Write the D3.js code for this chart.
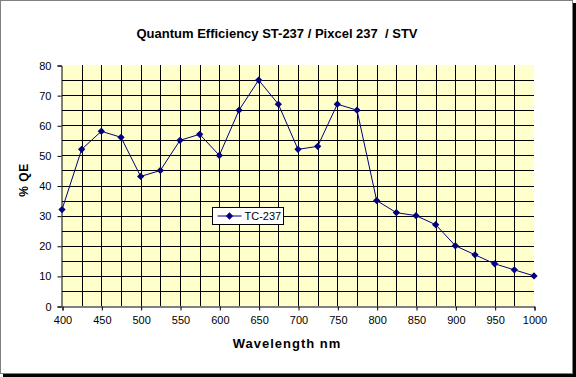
<!DOCTYPE html>
<html>
<head>
<meta charset="utf-8">
<script src="https://cdn.jsdelivr.net/npm/d3@7"></script>
<style>
  html, body { margin: 0; padding: 0; background: #fff; }
  svg { display: block; font-family: Arial, "Liberation Sans", sans-serif; }
</style>
</head>
<body>
<div id="chart"></div>
<script>
// data
const wavelengths = [400, 425, 450, 475, 500, 525, 550, 575, 600, 625, 650, 675, 700,
                     725, 750, 775, 800, 825, 850, 875, 900, 925, 950, 975, 1000];
const qeValues    = [32, 52, 58, 56, 43, 45, 55, 57, 50, 65, 75, 67, 52,
                     53, 67, 65, 35, 31, 30, 27, 20, 17, 14, 12, 10];
const xTicks = [400, 450, 500, 550, 600, 650, 700, 750, 800, 850, 900, 950, 1000];
const yTicks = [0, 10, 20, 30, 40, 50, 60, 70, 80];
const seriesName = 'TC-237';
const titleText = 'Quantum Efficiency ST-237 / Pixcel 237  / STV';

const W = 576, H = 377;
const M = { t: 65, r: 42, b: 71, l: 62 };
const NAVY = '#000080';

const svg = d3.select('#chart').append('svg')
  .attr('width', W).attr('height', H)
  .attr('viewBox', `0 0 ${W} ${H}`);

// frame with shadow
svg.append('rect').attr('x', 3).attr('y', 3).attr('width', W - 3).attr('height', H - 3).attr('fill', '#000');
svg.append('rect').attr('x', 0.5).attr('y', 0.5).attr('width', W - 4).attr('height', H - 4)
  .attr('fill', '#fff').attr('stroke', '#808080').attr('stroke-width', 1);

const x = d3.scaleLinear().domain([400, 1000]).range([M.l, W - M.r]);
const y = d3.scaleLinear().domain([0, 80]).range([H - M.b, M.t]);

svg.append('rect')
  .attr('x', x(400)).attr('y', y(80))
  .attr('width', x(1000) - x(400)).attr('height', y(0) - y(80))
  .attr('fill', '#ffffcc');

// grid (no line on top/right edge)
const gridX = d3.range(425, 1000, 25);
const gridY = d3.range(5, 80, 5);
svg.append('g').selectAll('line').data(gridX).join('line')
  .attr('x1', d => Math.round(x(d)) + 0.5).attr('x2', d => Math.round(x(d)) + 0.5)
  .attr('y1', y(80)).attr('y2', y(0))
  .attr('stroke', '#000').attr('stroke-width', 1);
svg.append('g').selectAll('line').data(gridY).join('line')
  .attr('y1', d => Math.round(y(d)) + 0.5).attr('y2', d => Math.round(y(d)) + 0.5)
  .attr('x1', x(400)).attr('x2', x(1000))
  .attr('stroke', '#000').attr('stroke-width', 1);

// axes
const xAxis = svg.append('g')
  .attr('transform', `translate(0.5,${Math.round(y(0)) + 0.5})`)
  .call(d3.axisBottom(x).tickValues(xTicks).tickSize(4).tickPadding(6).tickFormat(d3.format('d')));
const yAxis = svg.append('g')
  .attr('transform', `translate(${Math.round(x(400)) - 0.5},0.5)`)
  .call(d3.axisLeft(y).tickValues(yTicks).tickSize(4).tickPadding(6));
[xAxis, yAxis].forEach(a => {
  a.select('.domain').attr('stroke', '#000');
  a.selectAll('.tick line').attr('stroke', '#000');
  a.selectAll('.tick text').attr('fill', '#000')
    .style('font-size', '11px').style('font-family', 'Arial, "Liberation Sans", sans-serif');
});

// series
const pts = wavelengths.map((w, i) => ({ w, v: qeValues[i] }));
svg.append('path').datum(pts)
  .attr('fill', 'none').attr('stroke', NAVY).attr('stroke-width', 1)
  .attr('d', d3.line().x(d => x(d.w)).y(d => y(d.v)));

const diamond = d3.symbol().type(d3.symbolDiamond2).size(34);
svg.append('g').selectAll('path').data(pts).join('path')
  .attr('transform', d => `translate(${x(d.w)},${y(d.v)})`)
  .attr('d', diamond).attr('fill', NAVY);

// titles
svg.append('text')
  .attr('x', 277).attr('y', 38).attr('text-anchor', 'middle')
  .style('font-size', '13px').style('font-weight', 'bold').style('white-space', 'pre')
  .text(titleText);
svg.append('text')
  .attr('x', 287).attr('y', 348).attr('text-anchor', 'middle')
  .style('font-size', '13px').style('font-weight', 'bold').style('letter-spacing', '1px')
  .text('Wavelength nm');
svg.append('text')
  .attr('transform', 'translate(28,180) rotate(-90)').attr('text-anchor', 'middle')
  .style('font-size', '12px').style('font-weight', 'bold').style('letter-spacing', '0.5px')
  .text('% QE');

// legend
const lg = svg.append('g').attr('transform', 'translate(212.5,207.5)');
lg.append('rect').attr('width', 71).attr('height', 17)
  .attr('fill', '#fff').attr('stroke', '#000');
lg.append('line').attr('x1', 5).attr('x2', 29).attr('y1', 8.5).attr('y2', 8.5)
  .attr('stroke', NAVY);
lg.append('path').attr('transform', 'translate(17,8.5)').attr('d', diamond).attr('fill', NAVY);
lg.append('text').attr('x', 32).attr('y', 12.5)
  .style('font-size', '11px').text(seriesName);
</script>
</body>
</html>
